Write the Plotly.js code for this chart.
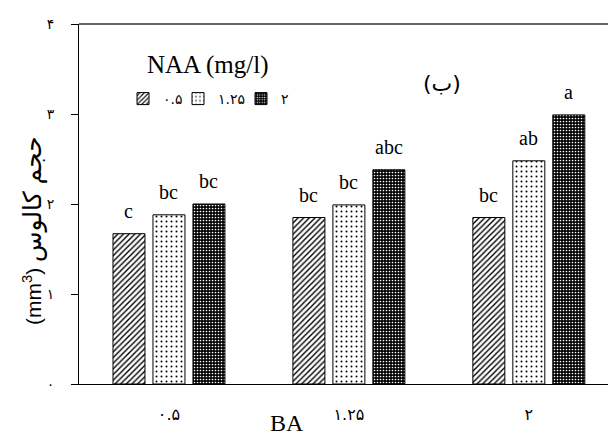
<!DOCTYPE html>
<html>
<head>
<meta charset="utf-8">
<script src="https://cdn.plot.ly/plotly-3.0.1.min.js"></script>
<style>html,body{margin:0;padding:0;background:#fff;overflow:hidden}</style>
</head>
<body>
<div id="chart" style="width:608px;height:435px"></div>
<script>
// BA levels (x categories)
const categories = ["۰.۵", "۱.۲۵", "۲"];
// NAA levels (series names)
const naaLevels = ["۰.۵", "۱.۲۵", "۲"];
// Callus volume (mm3) per NAA level, across BA categories
const vol_naa05 = [1.67, 1.85, 1.85];
const vol_naa125 = [1.88, 1.99, 2.48];
const vol_naa2 = [2.00, 2.38, 2.99];
// Mean comparison letters
const letters_naa05 = ["c", "bc", "bc"];
const letters_naa125 = ["bc", "bc", "ab"];
const letters_naa2 = ["bc", "abc", "a"];
// Y tick labels
const yTickVals = [0, 1, 2, 3, 4];
const yTickText = ["۰", "۱", "۲", "۳", "۴"];

const serif = "Liberation Serif, Times New Roman, serif";
const series = [
  {name: naaLevels[0], y: vol_naa05, letters: letters_naa05, lw: 10,
   pattern: {shape: "/", fgcolor: "#000", bgcolor: "#fff", size: 4, solidity: 0.35, fillmode: "replace"}},
  {name: naaLevels[1], y: vol_naa125, letters: letters_naa125, lw: 18,
   pattern: {shape: ".", fgcolor: "#000", bgcolor: "#fff", size: 5, solidity: 0.12, fillmode: "replace"}},
  {name: naaLevels[2], y: vol_naa2, letters: letters_naa2, lw: 10,
   pattern: {shape: ".", fgcolor: "#fff", bgcolor: "#000", size: 3, solidity: 0.25, fillmode: "replace"}}
];

const bargap = 1/3;
const nSeries = series.length;
const slot = (1 - bargap) / nSeries;

const traces = series.map(s => ({
  type: "bar",
  name: s.name,
  x: categories,
  y: s.y,
  legendwidth: s.lw,
  marker: {color: s.pattern.bgcolor, line: {color: "#000", width: 1}, pattern: s.pattern},
  hoverinfo: "y"
}));

const annotations = [];
series.forEach((s, j) => {
  s.y.forEach((v, i) => {
    annotations.push({
      x: i + (j - (nSeries - 1) / 2) * slot, y: v, xref: "x", yref: "y",
      text: s.letters[i], showarrow: false, yanchor: "bottom", yshift: 10,
      font: {family: serif, size: 20, color: "#000"}
    });
  });
});
annotations.push({
  xref: "paper", yref: "paper", x: (287 - 79) / 529, y: -0.108,
  text: "BA", showarrow: false, xanchor: "center", yanchor: "middle",
  font: {family: serif, size: 24, color: "#000"}
});
annotations.push({
  xref: "paper", yref: "paper", x: (145 - 79) / 529, y: (384 - 65) / 360,
  text: "NAA (mg/l)", showarrow: false, xanchor: "left", yanchor: "middle",
  font: {family: serif, size: 25, color: "#000"}
});
annotations.push({
  xref: "paper", yref: "paper", x: (442 - 79) / 529, y: (384 - 84) / 360,
  text: "(ب)", showarrow: false, xanchor: "center", yanchor: "middle",
  font: {family: "DejaVu Sans, sans-serif", size: 22, color: "#000"}
});
annotations.push({
  xref: "paper", yref: "paper", x: (33 - 79) / 529, y: (384 - 231) / 360,
  text: "(mm<sup>3</sup>) <span style='font-size:25px'>حجم کالوس</span>", showarrow: false, textangle: -90,
  xanchor: "center", yanchor: "middle",
  font: {family: "Liberation Sans, Arial, DejaVu Sans, sans-serif", size: 21, color: "#000"}
});

const layout = {
  width: 608, height: 435,
  margin: {l: 79, r: 0, t: 24, b: 51, pad: 0},
  paper_bgcolor: "#fff", plot_bgcolor: "#fff",
  barmode: "group", bargap: bargap, bargroupgap: 0.2,
  showlegend: true,
  legend: {
    orientation: "h", x: (123 - 79) / 529, y: (384 - 83) / 360, xanchor: "left", yanchor: "top",
    bgcolor: "rgba(0,0,0,0)", borderwidth: 0, traceorder: "normal",
    itemwidth: 30, entrywidthmode: "pixels",
    font: {family: "DejaVu Sans, sans-serif", size: 14, color: "#000"}
  },
  xaxis: {
    type: "category", range: [-0.5, 2.44], showline: true, linecolor: "#000", linewidth: 1,
    ticks: "", showgrid: false, zeroline: false, ticklabelstandoff: 16,
    tickfont: {family: "DejaVu Sans, sans-serif", size: 16, color: "#000"}
  },
  yaxis: {
    range: [0, 4], tickvals: yTickVals, ticktext: yTickText,
    showline: true, linecolor: "#000", linewidth: 1,
    ticks: "outside", ticklen: 7, tickcolor: "#000", tickwidth: 1,
    showgrid: false, zeroline: false, ticklabelstandoff: 14,
    tickfont: {family: "DejaVu Sans, sans-serif", size: 14, color: "#000"}
  },
  shapes: [{type: "line", xref: "paper", yref: "paper", x0: 0, x1: 1, y0: 1, y1: 1,
            line: {color: "#666", width: 2}}],
  annotations: annotations
};

Plotly.newPlot("chart", traces, layout, {displayModeBar: false, staticPlot: true});
</script>
</body>
</html>
